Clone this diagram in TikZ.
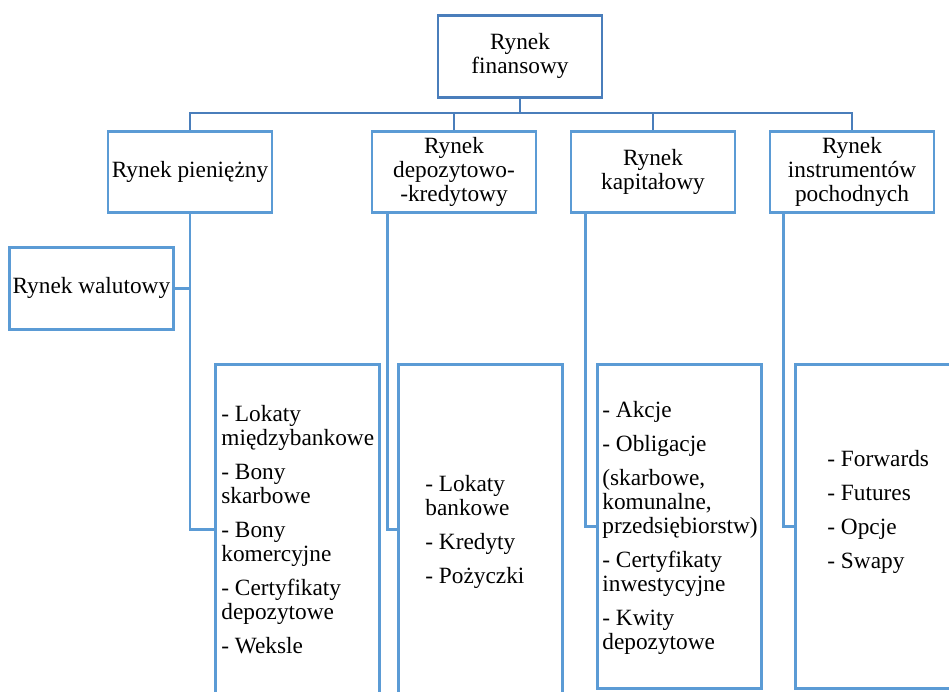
\documentclass[tikz,border=0pt]{standalone}
\usepackage{fontspec}
\setmainfont{Liberation Serif}
\usetikzlibrary{positioning}
\definecolor{topblue}{HTML}{4A7EBB}
\definecolor{boxblue}{HTML}{5B9BD5}

\begin{document}
\begin{tikzpicture}[x=1pt, y=-1pt, line width=2.8pt,
  font=\fontsize{23.3}{24}\selectfont,
  mktbox/.style={draw=boxblue, minimum width=164pt, minimum height=81pt, inner sep=0pt, align=center},
  listbox/.style={draw=boxblue, minimum width=164pt, anchor=north west, inner sep=0pt},
  listtext/.style={align=left, inner sep=0pt}]
  \useasboundingbox (0,0) rectangle (949,691);
  \clip (0,0) rectangle (949,691);

  % rynek finansowy i jego segmenty
  \node[mktbox, draw=topblue, anchor=north, minimum height=82pt] (fin) at (520,14) {Rynek\\finansowy};
  \node[mktbox, anchor=north] (pien) at (190,130) {Rynek pieniężny};
  \node[mktbox, anchor=north] (depo) at (454,130) {Rynek\\depozytowo-\\-kredytowy};
  \node[mktbox, anchor=north] (kap) at (653,130) {Rynek\\kapitałowy};
  \node[mktbox, anchor=north] (instr) at (852,130) {Rynek\\instrumentów\\pochodnych};
  \node[mktbox, anchor=north west, minimum height=82pt] (wal) at (8,246) {Rynek walutowy};

  \coordinate (bus) at (0,113);
  \draw[topblue] (fin.south) -- (fin.south |- bus);
  \draw[topblue] (pien.north) |- (bus -| instr.north) -- (instr.north);
  \draw[topblue] (depo.north) -- (depo.north |- bus);
  \draw[topblue] (kap.north) -- (kap.north |- bus);

  % instrumenty
  \node[listbox, minimum height=330pt] (l1) at (214,363) {};
  \node[listbox, minimum height=330pt] (l2) at (397,363) {};
  \node[listbox, minimum height=324pt] (l3) at (596,363) {};
  \node[listbox, minimum height=324pt] (l4) at (794,363) {};

  \node[listtext, below right=40.5pt and 6pt of l1.north west] (t1)
    {- Lokaty\\międzybankowe\\[10pt]- Bony\\skarbowe\\[10pt]- Bony\\komercyjne\\[10pt]- Certyfikaty\\depozytowe\\[10pt]- Weksle};
  \node[listtext, below right=110.5pt and 27pt of l2.north west] (t2)
    {- Lokaty\\bankowe\\[10pt]- Kredyty\\[10pt]- Pożyczki};
  \node[listtext, below right=36.5pt and 5pt of l3.north west] (t3)
    {- Akcje\\[10pt]- Obligacje\\[10pt](skarbowe,\\komunalne,\\przedsiębiorstw)\\[10pt]- Certyfikaty\\inwestycyjne\\[10pt]- Kwity\\depozytowe};
  \node[listtext, below right=85.5pt and 32pt of l4.north west] (t4)
    {- Forwards\\[10pt]- Futures\\[10pt]- Opcje\\[10pt]- Swapy};

  \draw[boxblue] (wal.east) -- (wal.east -| pien.south);
  \draw[boxblue] (pien.south) |- (l1.west);
  \draw[boxblue] ([xshift=17pt]depo.south west) |- (l2.west);
  \draw[boxblue] ([xshift=16pt]kap.south west) |- (l3.west);
  \draw[boxblue] ([xshift=15pt]instr.south west) |- (l4.west);
\end{tikzpicture}
\end{document}
